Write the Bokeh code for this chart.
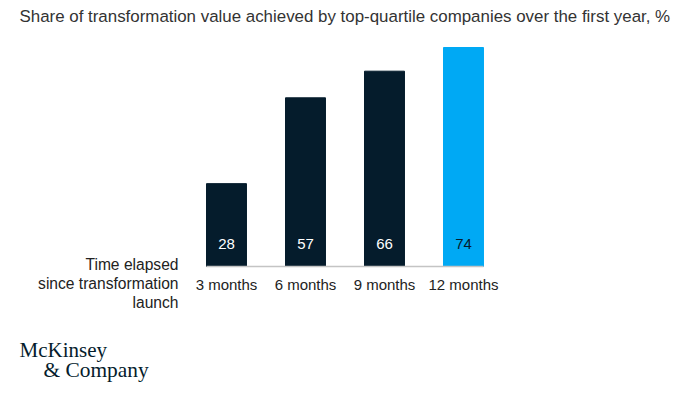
from bokeh.plotting import figure
from bokeh.models import ColumnDataSource, Range1d, Label, LabelSet
from bokeh.core.properties import value
from bokeh.embed import file_html
from bokeh.resources import INLINE

# ---- data ----
categories = ["3 months", "6 months", "9 months", "12 months"]
values = [28, 57, 66, 74]
bar_colors = ["#051c2c", "#051c2c", "#051c2c", "#00a9f4"]
label_colors = ["#ffffff", "#ffffff", "#ffffff", "#051c2c"]
title_text = "Share of transformation value achieved by top-quartile companies over the first year, %"
axis_title = "Time elapsed\nsince transformation\nlaunch"

# ---- layout constants (pixels) ----
W, H = 674, 386
FONT_NAME = "Liberation Sans"
FONT = value(FONT_NAME)
BAR_W = 0.506          # in category units
PX_X = 79.0            # pixels per category
LEFT_EDGE = 206        # pixel of first bar's left edge
BASE = 266             # pixel of baseline (from top)
PX_Y = 219.0 / 74.0    # pixels per percentage point

xs = list(range(1, len(categories) + 1))
x0 = xs[0] - BAR_W / 2 - LEFT_EDGE / PX_X
y0 = -(H - BASE) / PX_Y

src = ColumnDataSource(dict(x=xs, top=values, color=bar_colors, zero=[0] * len(xs),
                            lab=[str(v) for v in values], lcolor=label_colors,
                            cat=categories))

p = figure(width=W, height=H, output_backend="svg", toolbar_location=None,
           x_range=Range1d(x0, x0 + W / PX_X),
           y_range=Range1d(y0, y0 + H / PX_Y),
           x_axis_location=None, y_axis_location=None,
           min_border=0)
p.outline_line_color = None
p.background_fill_color = "white"
p.border_fill_color = "white"
p.grid.visible = False

p.vbar(x="x", top="top", width=BAR_W, bottom=0, color="color", source=src)

# baseline spanning the bars
p.segment(x0=[xs[0] - BAR_W / 2], x1=[xs[-1] + BAR_W / 2], y0=[0], y1=[0],
          line_color="#c4c4c4", line_width=1.5)

# value labels inside bars
p.add_layout(LabelSet(x="x", y="zero", text="lab", source=src, text_color="lcolor",
                      text_font=FONT, text_font_size="15px", text_align="center",
                      text_baseline="middle", y_offset=23))

# category labels under the baseline
p.add_layout(LabelSet(x="x", y="zero", text="cat", source=src, text_color="#222222",
                      text_font=FONT, text_font_size="15px", text_align="center",
                      text_baseline="middle", y_offset=-18))

# title
p.add_layout(Label(x=19, y=H - 16, x_units="screen", y_units="screen", text=title_text,
                   text_font=FONT_NAME, text_font_size="16.9px", text_color="#333333",
                   text_baseline="middle", text_align="left"))

# axis title
p.add_layout(Label(x=178, y=H - 283, x_units="screen", y_units="screen", text=axis_title,
                   text_font=FONT_NAME, text_font_size="15.6px", text_color="#222222",
                   text_baseline="middle", text_align="right", text_line_height=1.1))

# logo
p.add_layout(Label(x=19, y=H - 349, x_units="screen", y_units="screen", text="McKinsey",
                   text_font="Liberation Serif", text_font_size="21px",
                   text_color="#051c2c", text_baseline="middle", text_align="left"))
p.add_layout(Label(x=43, y=H - 369, x_units="screen", y_units="screen", text="& Company",
                   text_font="Liberation Serif", text_font_size="21.4px",
                   text_color="#051c2c", text_baseline="middle", text_align="left"))

open("out.html", "w").write(file_html(p, INLINE))
